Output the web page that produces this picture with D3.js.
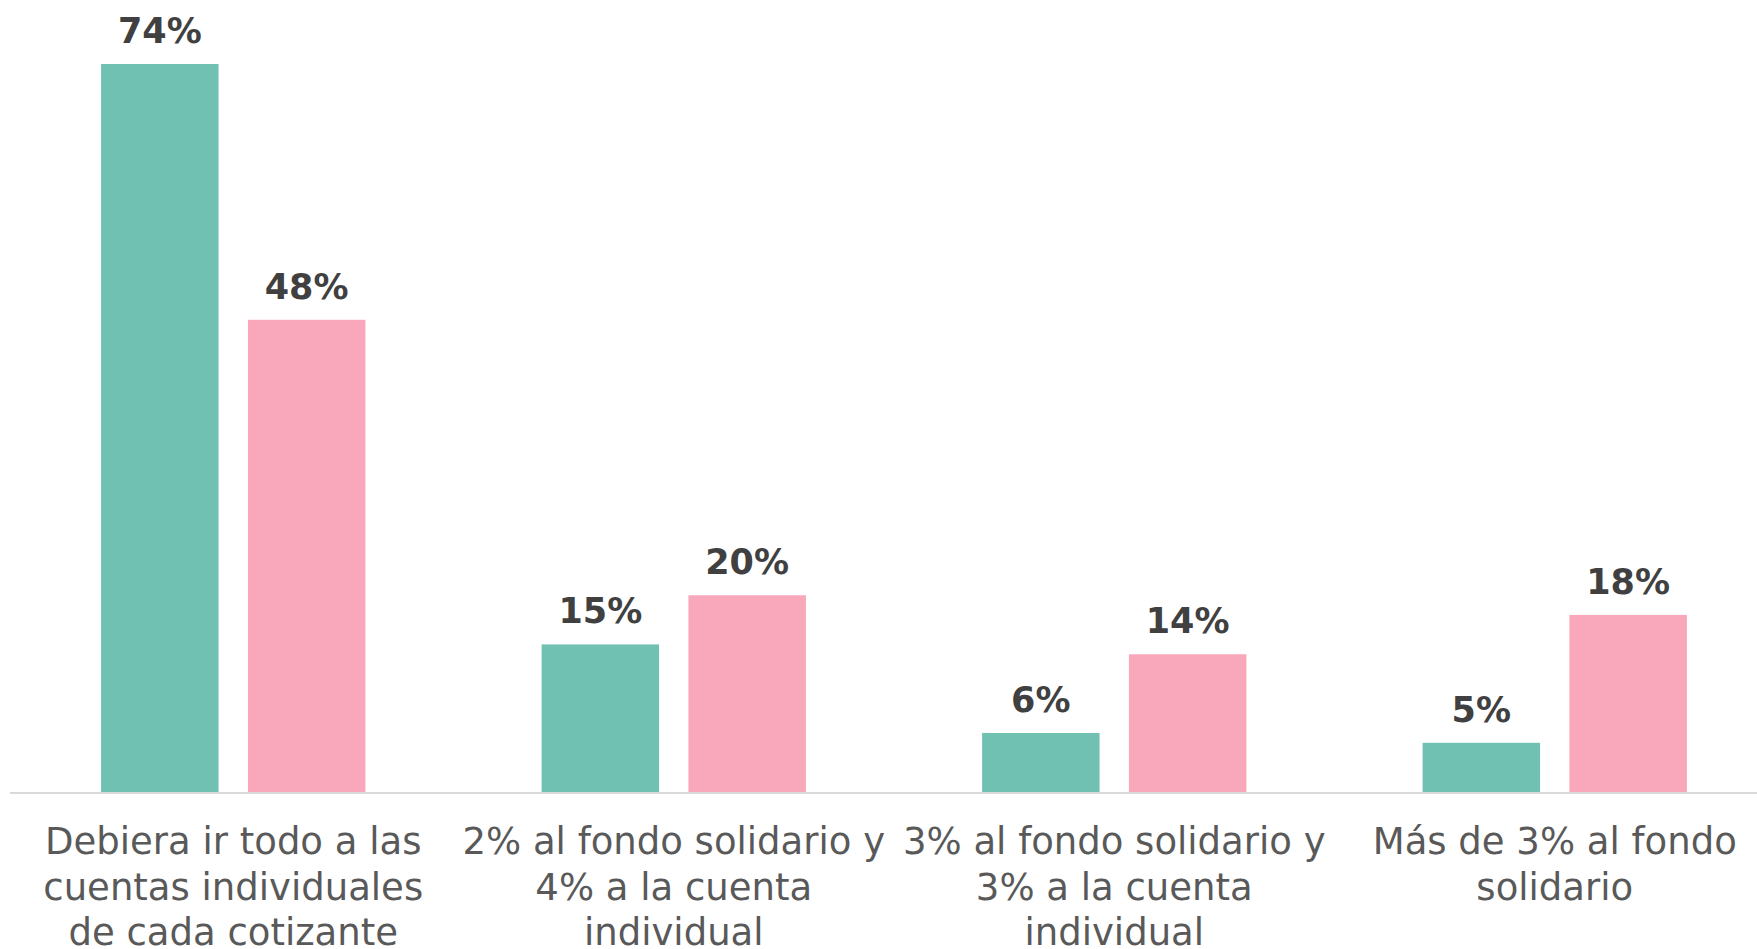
<!DOCTYPE html>
<html>
<head>
<meta charset="utf-8">
<script src="https://cdn.jsdelivr.net/npm/d3@7"></script>
<style>
	body { margin: 0; background: #fff; }
	svg { display: block; }
</style>
</head>
<body>
<svg id="chart"></svg>
<script>
// categories (each one split in lines as in the picture)
const categories = [
	["Debiera ir todo a las", "cuentas individuales", "de cada cotizante"],
	["2% al fondo solidario y", "4% a la cuenta", "individual"],
	["3% al fondo solidario y", "3% a la cuenta", "individual"],
	["Más de 3% al fondo", "solidario"]
];
const seriesNames = ["serie1", "serie2"];
const serie1 = [74, 15, 6, 5];
const serie2 = [48, 20, 14, 18];

const width = 1757;
const height = 949;
const baseY = 792;

const colors = {
	serie1: "#71c1b3",
	serie2: "#f8a8ba"
};

const svg = d3.select("#chart")
	.attr("width", width)
	.attr("height", height);

const catKeys = categories.map((c, i) => i);

const x0 = d3.scaleBand()
	.domain(catKeys)
	.range([13, 1775])
	.padding(0);

const x1 = d3.scaleBand()
	.domain(seriesNames)
	.range([0, x0.bandwidth()])
	.paddingInner(0.2)
	.paddingOuter(0.6);

const y = d3.scaleLinear()
	.domain([0, 74])
	.range([baseY, 64]);

const rows = catKeys.map(i => ({ i, serie1: serie1[i], serie2: serie2[i] }));

const groups = svg.selectAll(".group")
	.data(rows)
	.enter().append("g")
	.attr("class", "group")
	.attr("transform", d => `translate(${x0(d.i)},0)`);

const bars = groups.selectAll(".bar")
	.data(d => seriesNames.map(k => ({ key: k, value: d[k] })))
	.enter();

bars.append("rect")
	.attr("class", "bar")
	.attr("x", d => x1(d.key))
	.attr("y", d => y(d.value))
	.attr("width", x1.bandwidth())
	.attr("height", d => baseY - y(d.value))
	.attr("fill", d => colors[d.key]);

// value labels
bars.append("text")
	.attr("x", d => x1(d.key) + x1.bandwidth() / 2)
	.attr("y", d => y(d.value) - 21)
	.attr("text-anchor", "middle")
	.style("font-family", "'DejaVu Sans', sans-serif")
	.style("font-weight", "bold")
	.style("font-size", "35px")
	.style("fill", "#404040")
	.text(d => d.value + "%");

// baseline
svg.append("line")
	.attr("x1", 10)
	.attr("x2", width)
	.attr("y1", baseY + 1)
	.attr("y2", baseY + 1)
	.attr("stroke", "#d9d9d9")
	.attr("stroke-width", 2);

// category labels
const labels = svg.selectAll(".cat-label")
	.data(rows)
	.enter().append("text")
	.attr("class", "cat-label")
	.attr("text-anchor", "middle")
	.style("font-family", "'DejaVu Sans', sans-serif")
	.style("font-size", "37px")
	.style("fill", "#595959");

labels.selectAll("tspan")
	.data(d => categories[d.i].map(line => ({ line, i: d.i })))
	.enter().append("tspan")
	.attr("x", d => x0(d.i) + x0.bandwidth() / 2)
	.attr("y", (d, j) => 854 + j * 45.5)
	.text(d => d.line);
</script>
</body>
</html>
